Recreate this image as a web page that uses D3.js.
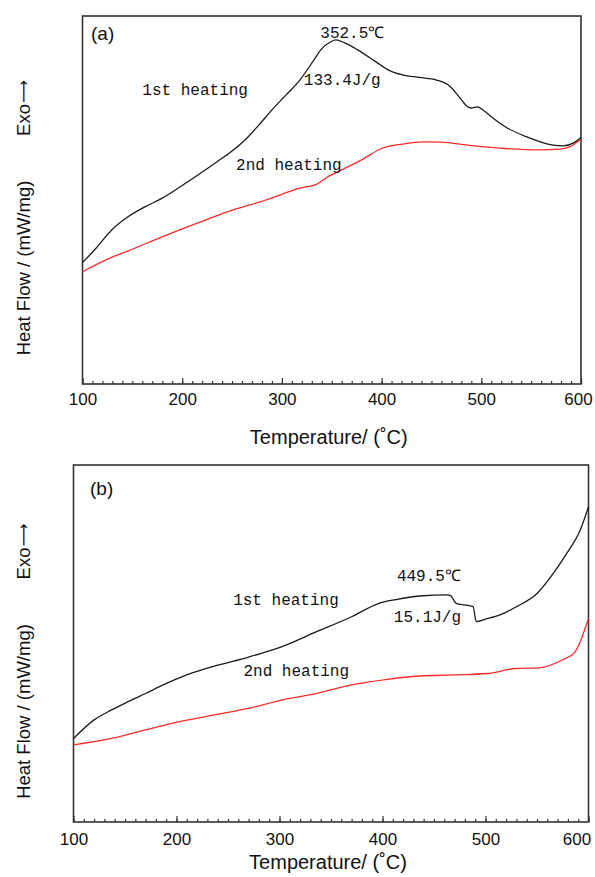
<!DOCTYPE html>
<html>
<head>
<meta charset="utf-8">
<script src="https://cdn.jsdelivr.net/npm/d3@7"></script>
<style>
  body { margin: 0; background: #fff; }
  text { fill: #111; }
</style>
</head>
<body>
<svg id="chart" width="595" height="877"></svg>
<script>
// ---- data (heat flow in arbitrary units, 0-10 = plot height) ----
const tempA1 = [100, 112, 129, 146, 163, 180, 198, 235, 249, 263, 277, 290, 304, 318, 332, 339, 349, 354, 363, 376, 394, 407, 421, 438, 455, 469, 479, 486, 490, 496, 503, 510, 524, 545, 572, 582, 593, 600];
const flowA1 = [3.30, 3.64, 4.18, 4.55, 4.82, 5.05, 5.36, 6.04, 6.31, 6.63, 7.04, 7.45, 7.85, 8.26, 8.80, 9.08, 9.30, 9.35, 9.27, 9.08, 8.76, 8.53, 8.40, 8.33, 8.26, 8.08, 7.76, 7.54, 7.50, 7.53, 7.42, 7.26, 6.99, 6.72, 6.49, 6.47, 6.56, 6.70];

const tempA2 = [100, 129, 146, 180, 215, 249, 284, 318, 335, 346, 363, 380, 400, 421, 442, 459, 490, 524, 558, 579, 589, 600];
const flowA2 = [3.05, 3.44, 3.62, 4.00, 4.37, 4.71, 5.00, 5.32, 5.43, 5.63, 5.86, 6.09, 6.40, 6.52, 6.58, 6.57, 6.48, 6.40, 6.36, 6.38, 6.45, 6.65];

const tempB1 = [100, 120, 137, 153, 170, 187, 210, 236, 270, 303, 336, 370, 396, 413, 436, 463, 466, 472, 486, 488, 491, 500, 514, 530, 550, 566, 579, 592, 600];
const flowB1 = [2.34, 2.86, 3.14, 3.37, 3.60, 3.84, 4.12, 4.36, 4.62, 4.92, 5.33, 5.75, 6.12, 6.23, 6.33, 6.36, 6.34, 6.12, 6.05, 6.03, 5.61, 5.68, 5.80, 6.03, 6.40, 6.97, 7.53, 8.18, 8.83];

const tempB2 = [100, 137, 170, 203, 237, 270, 303, 336, 370, 403, 436, 469, 502, 529, 552, 576, 586, 592, 597, 600];
const flowB2 = [2.16, 2.34, 2.58, 2.81, 3.00, 3.18, 3.42, 3.60, 3.84, 3.99, 4.09, 4.12, 4.16, 4.30, 4.32, 4.56, 4.73, 5.05, 5.45, 5.70];

const majorTicks = [100, 200, 300, 400, 500, 600];
const minorTicks = d3.range(100, 601, 10);

// annotation text with its anchor in data units (temperature, heat flow)
const notesA = [
  { text: "352.5\u2103", t: 338.5, v: 9.40 },
  { text: "133.4J/g", t: 322, v: 8.12 },
  { text: "1st heating", t: 160, v: 7.85 },
  { text: "2nd heating", t: 254, v: 5.82 }
];
const notesB = [
  { text: "449.5\u2103", t: 414, v: 6.75 },
  { text: "1st heating", t: 255, v: 6.08 },
  { text: "15.1J/g", t: 411, v: 5.60 },
  { text: "2nd heating", t: 265, v: 4.09 }
];

const svg = d3.select("#chart");
const sans = "Liberation Sans, Arial, sans-serif";

function drawPanel(p) {
  const x = d3.scaleLinear().domain([100, 600]).range([p.left, p.right]);
  const y = d3.scaleLinear().domain([0, 10]).range([p.bottom, p.top]);
  const g = svg.append("g");

  // minor ticks (no labels)
  g.append("g")
    .attr("transform", `translate(0,${p.bottom})`)
    .call(d3.axisBottom(x).tickValues(minorTicks).tickSizeInner(-3).tickSizeOuter(0).tickFormat(""))
    .call(a => a.select(".domain").remove())
    .call(a => a.selectAll("line").attr("stroke", "#333").attr("stroke-width", 1.2));

  // major ticks with labels
  g.append("g")
    .attr("transform", `translate(0,${p.bottom})`)
    .call(d3.axisBottom(x).tickValues(majorTicks).tickSizeInner(-6).tickSizeOuter(0).tickPadding(p.pad))
    .call(a => a.select(".domain").remove())
    .call(a => a.selectAll("line").attr("stroke", "#333").attr("stroke-width", 1.2))
    .call(a => a.selectAll("text").attr("fill", "#111")
      .attr("dx", d => d === 600 ? p.lastDx : 0)
      .style("font-family", sans).style("font-size", "17px"));

  // frame
  g.append("rect")
    .attr("x", p.left).attr("y", p.top)
    .attr("width", p.right - p.left).attr("height", p.bottom - p.top)
    .attr("fill", "none").attr("stroke", "#333").attr("stroke-width", 1.6);

  const line = d3.line().x(d => x(d[0])).y(d => y(d[1])).curve(d3.curveMonotoneX);

  g.append("path")
    .datum(d3.zip(p.t2, p.f2))
    .attr("d", line).attr("fill", "none").attr("stroke", "#ff2a2a").attr("stroke-width", 1.3);
  g.append("path")
    .datum(d3.zip(p.t1, p.f1))
    .attr("d", line).attr("fill", "none").attr("stroke", "#1a1a1a").attr("stroke-width", 1.3);

  g.selectAll(".note").data(p.notes).join("text")
    .attr("x", d => x(d.t)).attr("y", d => y(d.v))
    .style("font-family", "Liberation Mono, DejaVu Sans Mono, monospace")
    .style("font-size", "16px")
    .text(d => d.text);

  g.append("text")
    .attr("x", p.labelX).attr("y", p.top + p.labelDy)
    .style("font-family", sans).style("font-size", "19px")
    .text(p.label);

  g.append("text")
    .attr("x", (p.left + p.right) / 2 - 3).attr("y", p.bottom + p.titleGap)
    .attr("text-anchor", "middle")
    .style("font-family", sans).style("font-size", "20px")
    .text("Temperature/ (\u02DAC)");

  const yl = (p.top + p.bottom) / 2;
  g.append("text")
    .attr("transform", `translate(30,${yl + 68}) rotate(-90)`)
    .attr("text-anchor", "middle")
    .style("font-family", sans).style("font-size", "18.5px")
    .text("Heat Flow / (mW/mg)");
  const exo = g.append("text")
    .attr("transform", `translate(30,${yl - 92}) rotate(-90)`)
    .attr("text-anchor", "middle")
    .style("font-family", sans).style("font-size", "18.5px");
  exo.append("tspan").text("Exo");
  exo.append("tspan").attr("dx", 1).attr("dy", -1)
    .style("font-family", "DejaVu Sans, sans-serif").style("font-size", "16px")
    .text("\u27F6");
}

drawPanel({ left: 82.5, right: 581, top: 16, bottom: 384, pad: 9, titleGap: 60, lastDx: -3,
  labelX: 91, labelDy: 24,
  t1: tempA1, f1: flowA1, t2: tempA2, f2: flowA2, notes: notesA, label: "(a)" });
drawPanel({ left: 73.5, right: 588.5, top: 465, bottom: 822, pad: 11, titleGap: 47, lastDx: -12,
  labelX: 90, labelDy: 30,
  t1: tempB1, f1: flowB1, t2: tempB2, f2: flowB2, notes: notesB, label: "(b)" });
</script>
</body>
</html>
